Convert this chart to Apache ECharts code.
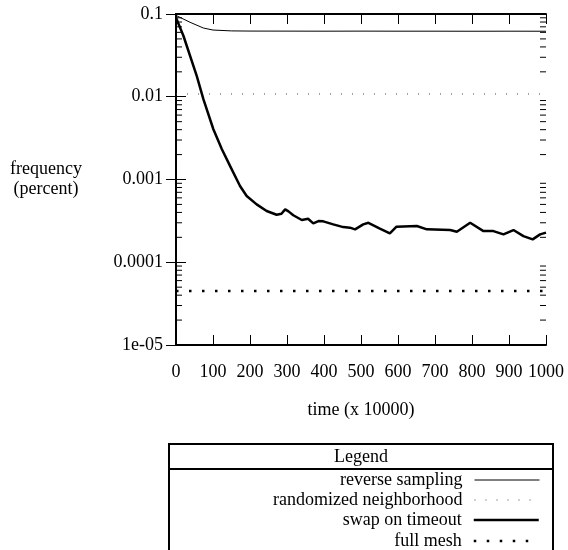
<!DOCTYPE html>
<html>
<head>
<meta charset="utf-8">
<script src="https://cdn.jsdelivr.net/npm/echarts@6/dist/echarts.min.js"></script>
<style>
  html, body { margin: 0; padding: 0; background: #fff; }
  #chart { width: 568px; height: 550px; }
</style>
</head>
<body>
<div id="chart"></div>
<script>
// values (x in units of 10000, y in percent)
const reverseX = [0, 2, 38, 74, 100, 150, 200, 300, 400, 500, 600, 700, 800, 900, 1000]
const reverseY = [0.096, 0.0954, 0.0794, 0.0677, 0.064, 0.0625, 0.0622, 0.0621, 0.062, 0.0621, 0.062, 0.062, 0.0619, 0.062, 0.0619]

const randomX = [0, 1000]
const randomY = [0.0108, 0.0108]

const swapX = [0, 2, 20, 56, 74, 101, 124, 146, 173, 191, 218, 245, 272, 285, 295, 304, 317, 340, 357, 371, 385, 398, 425, 452, 470, 484, 506, 520, 551, 578, 596, 651, 678, 741, 759, 795, 831, 858, 885, 912, 939, 964, 984, 1000]
const swapY = [0.09, 0.087, 0.0546, 0.0179, 0.00935, 0.00405, 0.00232, 0.00146, 0.000834, 0.000631, 0.000501, 0.000416, 0.000375, 0.000385, 0.000436, 0.000412, 0.00037, 0.000324, 0.000335, 0.000295, 0.000315, 0.000312, 0.000287, 0.000266, 0.000262, 0.00025, 0.000287, 0.0003, 0.000255, 0.000224, 0.000269, 0.000274, 0.00025, 0.000245, 0.000234, 0.0003, 0.000238, 0.000238, 0.000217, 0.000245, 0.000207, 0.000189, 0.000217, 0.000228]

const meshX = [0, 1000]
const meshY = [0.000045, 0.000045]

const yTickLabels = { 0.1: '0.1', 0.01: '0.01', 0.001: '0.001', 0.0001: '0.0001', 0.00001: '1e-05' }
const minorTicks = []
for (let d = -5; d < -1; d++) {
  for (let m = 2; m <= 9; m++) minorTicks.push(m * Math.pow(10, d))
}

const seriesNames = ['reverse sampling', 'randomized neighborhood', 'swap on timeout', 'full mesh']
const lineStyles = [
  { color: '#000', width: 1, type: 'solid' },
  { color: '#444', width: 1, type: [1, 10] },
  { color: '#000', width: 2.5, type: 'solid' },
  { color: '#000', width: 2.5, type: [2.5, 10.5] }
]

const zip = (xs, ys) => xs.map((x, i) => [x, ys[i]])

const font = 'Liberation Serif'
const axisLine = { show: true, lineStyle: { color: '#000', width: 2 } }
const tick = { show: true, inside: true, length: 10, lineStyle: { color: '#000', width: 1 } }

const chart = echarts.init(document.getElementById('chart'), null, { renderer: 'canvas' })

const legendRows = [471, 491, 511, 532]

chart.setOption({
  animation: false,
  backgroundColor: '#fff',
  textStyle: { fontFamily: font, color: '#000' },
  grid: { left: 176, right: 22, top: 14, bottom: 205, containLabel: false },
  legend: seriesNames.map((name, i) => ({
    data: [name],
    right: 28,
    top: legendRows[i],
    align: 'right',
    padding: 0,
    itemWidth: 65,
    itemHeight: 14,
    itemStyle: { opacity: 0 },
    lineStyle: lineStyles[i],
    textStyle: { fontFamily: font, fontSize: 18, color: '#000', padding: [0, 7, 0, 0] }
  })),
  graphic: [
    {
      type: 'rect',
      shape: { x: 169, y: 444, width: 384, height: 110 },
      style: { fill: 'none', stroke: '#000', lineWidth: 2 },
      silent: true
    },
    {
      type: 'line',
      shape: { x1: 169, y1: 469, x2: 553, y2: 469 },
      style: { stroke: '#000', lineWidth: 2 },
      silent: true
    },
    {
      type: 'text',
      x: 361,
      y: 457,
      style: { text: 'Legend', font: '18px "Liberation Serif"', fill: '#000', align: 'center', verticalAlign: 'middle' },
      silent: true
    }
  ],
  xAxis: [
    {
      type: 'value',
      min: 0,
      max: 1000,
      interval: 100,
      name: 'time (x 10000)',
      nameLocation: 'middle',
      nameGap: 56,
      nameTextStyle: { fontFamily: font, fontSize: 18, color: '#000' },
      axisLine: axisLine,
      axisTick: tick,
      splitLine: { show: false },
      axisLabel: { fontFamily: font, fontSize: 18, color: '#000', margin: 18, formatter: (v) => String(v) }
    },
    {
      type: 'value',
      position: 'top',
      min: 0,
      max: 1000,
      interval: 100,
      axisLine: axisLine,
      axisTick: tick,
      splitLine: { show: false },
      axisLabel: { show: false }
    }
  ],
  yAxis: [
    {
      type: 'log',
      logBase: 10,
      min: 0.00001,
      max: 0.1,
      name: 'frequency\n(percent)',
      nameLocation: 'middle',
      nameRotate: 0,
      nameGap: 130,
      nameTextStyle: { fontFamily: font, fontSize: 18, color: '#000', align: 'center', lineHeight: 20 },
      axisLine: axisLine,
      axisTick: tick,
      splitLine: { show: false },
      axisLabel: {
        fontFamily: font,
        fontSize: 18,
        color: '#000',
        margin: 13,
        formatter: (v) => yTickLabels[v] || yTickLabels[Number(v.toPrecision(3))] || ''
      }
    },
    {
      type: 'log',
      logBase: 10,
      position: 'right',
      min: 0.00001,
      max: 0.1,
      axisLine: axisLine,
      axisTick: tick,
      splitLine: { show: false },
      axisLabel: { show: false }
    }
  ],
  series: [
    {
      name: seriesNames[0],
      type: 'line',
      data: zip(reverseX, reverseY),
      symbol: 'none',
      lineStyle: lineStyles[0],
      itemStyle: { color: '#000' }
    },
    {
      name: seriesNames[1],
      type: 'line',
      data: zip(randomX, randomY),
      symbol: 'none',
      lineStyle: lineStyles[1],
      itemStyle: { color: '#444' }
    },
    {
      name: seriesNames[2],
      type: 'line',
      data: zip(swapX, swapY),
      symbol: 'none',
      lineStyle: lineStyles[2],
      itemStyle: { color: '#000' }
    },
    {
      name: seriesNames[3],
      type: 'line',
      data: zip(meshX, meshY),
      symbol: 'none',
      lineStyle: lineStyles[3],
      itemStyle: { color: '#000' }
    },
    {
      name: 'minor ticks',
      type: 'custom',
      silent: true,
      data: minorTicks.map((v) => [0, v]),
      renderItem: (params, api) => {
        const v = api.value(1)
        const l = api.coord([0, v])
        const r = api.coord([1000, v])
        return {
          type: 'group',
          children: [
            { type: 'line', shape: { x1: l[0], y1: l[1], x2: l[0] + 6, y2: l[1] }, style: { stroke: '#000', lineWidth: 1 } },
            { type: 'line', shape: { x1: r[0], y1: r[1], x2: r[0] - 6, y2: r[1] }, style: { stroke: '#000', lineWidth: 1 } }
          ]
        }
      }
    }
  ]
})
</script>
</body>
</html>
